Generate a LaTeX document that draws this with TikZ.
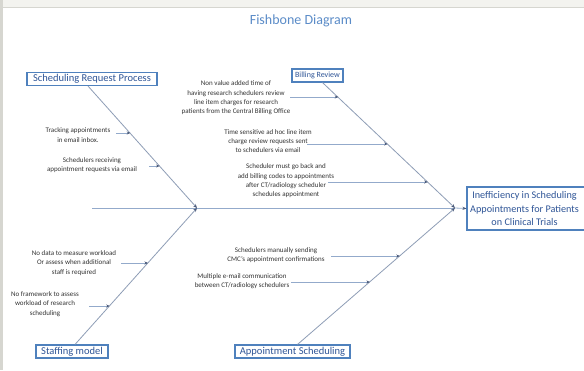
\documentclass[tikz,border=0pt]{standalone}
\usepackage{fontspec}
\setmainfont{Carlito}
\usetikzlibrary{arrows.meta,calc}
\definecolor{boxblue}{HTML}{4F81BD}
\definecolor{boxtext}{HTML}{2F5597}
\definecolor{titleblue}{HTML}{5B8CC8}
\definecolor{bonecol}{HTML}{8E9DB6}
\definecolor{subcol}{HTML}{93AACB}
\definecolor{tipcol}{HTML}{4A5A7A}
\definecolor{textgray}{HTML}{333333}
\definecolor{stripgray}{HTML}{F3F3EF}
\definecolor{edgegray}{HTML}{D6D6D0}
\tikzset{
  cause/.style={draw=boxblue, line width=1.1pt, fill=white, text=boxtext, inner sep=0pt,
    minimum height=13pt, font=\fontsize{10.5}{12}\selectfont},
  effectbox/.style={draw=boxblue, line width=1.1pt, fill=white, inner sep=0pt,
    minimum width=126pt, minimum height=43pt},
  efftext/.style={text=boxtext, inner sep=0pt, align=center, font=\fontsize{10.2}{13.2}\selectfont},
  subtext/.style={align=center, text=textgray, inner sep=0pt, font=\fontsize{7}{9.4}\selectfont},
  bone/.style={draw=bonecol, line width=0.8pt, -{Stealth[length=4pt,width=3.2pt,color=tipcol]}},
  subline/.style={draw=subcol, line width=0.6pt, -{Stealth[length=3.5pt,width=3pt,color=tipcol]}},
  spine/.style={draw=subcol, line width=0.8pt}
}
\begin{document}
\begin{tikzpicture}[x=1pt,y=-1pt]
\useasboundingbox (0,0) rectangle (584,370);
\clip (0,0) rectangle (584,370);
\fill[white] (0,0) rectangle (584,370);
\fill[stripgray] (0,0) rectangle (584,7);
\draw[edgegray, line width=0.6pt] (0,7) -- (584,7);
\fill[edgegray] (0,0) rectangle (3,370);

% title
\node[text=titleblue, font=\fontsize{14}{16}\selectfont, inner sep=0pt] (title) at (301,21) {Fishbone Diagram};

% category boxes
\node[cause, minimum width=130pt] (srp) at (92,79) {Scheduling Request Process};
\node[cause, minimum width=51pt, font=\fontsize{8}{10}\selectfont] (br) at (317.5,75.5) {Billing Review};
\node[cause, minimum width=72pt] (sm) at (72,351.5) {Staffing model};
\node[cause, minimum width=115pt] (as) at (292.5,351.5) {Appointment Scheduling};
\node[effectbox] (eff) at (530,208.5) {};
\node[efftext] (efft) at (524.5,208.5) {Inefficiency in Scheduling\\Appointments for Patients\\on Clinical Trials};

% spine
\coordinate (s0) at (92,208);
\coordinate (j1) at (197,208);
\coordinate (j2) at (455,208);
\draw[spine] (s0) -- (j2);
\draw[spine, -{Stealth[length=4pt,width=3.2pt,color=tipcol]}] (j2) -- (eff.west);

% bones
\draw[bone] ([xshift=-4pt]srp.south) -- (j1);
\draw[bone] ([xshift=5pt]br.south) -- (j2);
\draw[bone] ([xshift=3pt]sm.north) -- (j1);
\draw[bone] ([xshift=5pt]as.north) -- (j2);

% points on bones
\coordinate (p11) at (130.3,133);
\coordinate (p12) at (159.6,166);
\coordinate (p21) at (338.3,97);
\coordinate (p22) at (387.7,144);
\coordinate (p23) at (427.7,182);
\coordinate (p31) at (148.0,263);
\coordinate (p32) at (109.7,306);
\coordinate (p41) at (399.8,256);
\coordinate (p42) at (369.9,282);

% line starts
\coordinate (q11) at (116,133);
\coordinate (q12) at (149,166);
\coordinate (q21) at (290,97);
\coordinate (q22) at (307,144);
\coordinate (q23) at (328,182);
\coordinate (q31) at (121,263);
\coordinate (q32) at (89,306);
\coordinate (q41) at (331,256);
\coordinate (q42) at (291,282);

% sub-cause texts
\node[subtext] (t11) at (78,135) {Tracking appointments\\in email inbox.};
\node[subtext] (t12) at (92,165) {Schedulers receiving\\appointment requests via email};
\node[subtext] (t21) at (236,98) {Non value added time of\\having research schedulers review\\line item charges for research\\patients from the Central Billing Office};
\node[subtext] (t22) at (268,141) {Time sensitive ad hoc line item\\charge review requests sent\\to schedulers via email};
\node[subtext] (t23) at (286,181) {Scheduler must go back and\\add billing codes to appointments\\after CT/radiology scheduler\\schedules appointment};
\node[subtext] (t31) at (74,263) {No data to measure workload\\Or assess when additional\\staff is required};
\node[subtext] (t32) at (45,304) {No framework to assess\\workload of research\\scheduling};
\node[subtext] (t41) at (276,255) {Schedulers manually sending\\CMC's appointment confirmations};
\node[subtext] (t42) at (242,281) {Multiple e-mail communication\\between CT/radiology schedulers};

% sub-cause arrows
\foreach \a/\b in {q11/p11,q12/p12,q21/p21,q22/p22,q23/p23,q31/p31,q32/p32,q41/p41,q42/p42}
  \draw[subline] (\a) -- (\b);
\end{tikzpicture}
\end{document}
